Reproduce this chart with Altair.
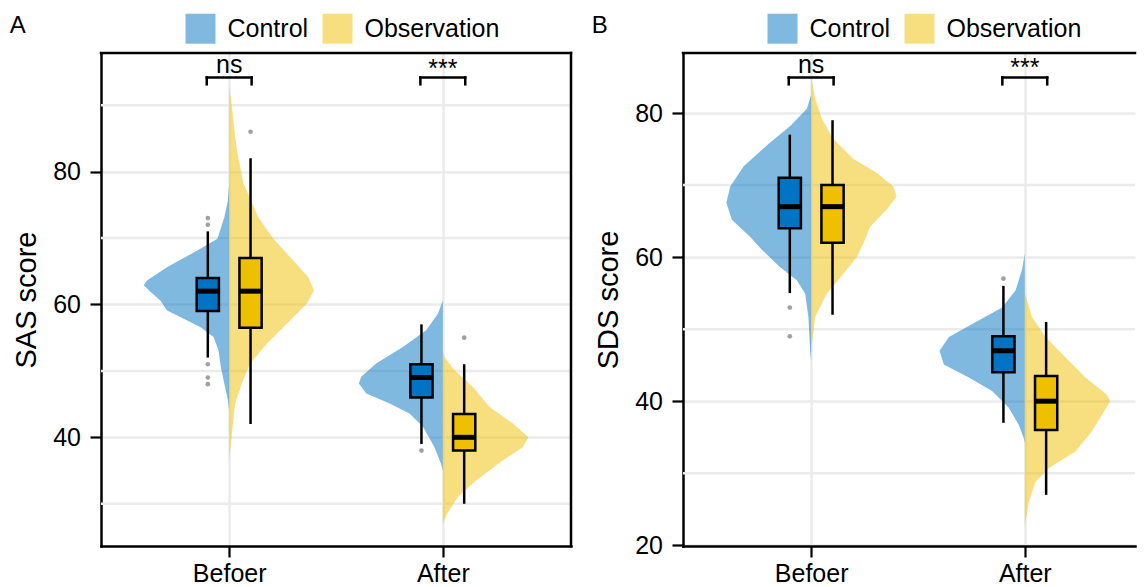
import altair as alt
import pandas as pd

TIMES = ["Befoer", "After"]
GROUPS = ["Control", "Observation"]
BOX_COLORS = ["#0073C2", "#EFC000"]

# ---------------- Panel A: SAS score ----------------
# violin outlines: score values and half-widths (category units)
SAS_BEF_CTRL_SCORE = [78.0, 75.6, 73.1, 69.9, 68.1, 65.6, 63.6, 62.9, 61.9, 60.6, 59.1, 58.1, 56.6, 55.1, 53.1, 50.6, 48.1, 45.6, 44.0]
SAS_BEF_CTRL_WIDTH = [0, 0.006, 0.023, 0.055, 0.151, 0.291, 0.385, 0.400, 0.369, 0.322, 0.291, 0.229, 0.136, 0.073, 0.050, 0.039, 0.023, 0.006, 0]
SAS_BEF_OBS_SCORE = [93.0, 90.0, 87.0, 83.2, 78.2, 73.1, 69.9, 66.6, 64.1, 62.1, 60.1, 57.1, 54.1, 51.1, 48.1, 45.1, 40.6, 36.5]
SAS_BEF_OBS_WIDTH = [0, 0.012, 0.022, 0.036, 0.067, 0.137, 0.207, 0.300, 0.371, 0.397, 0.363, 0.270, 0.176, 0.098, 0.059, 0.028, 0.013, 0]
SAS_AFT_CTRL_SCORE = [60.6, 58.6, 56.1, 53.6, 51.1, 49.1, 48.1, 46.6, 45.1, 43.6, 41.6, 38.5, 36.0, 35.0]
SAS_AFT_CTRL_WIDTH = [0, 0.023, 0.078, 0.187, 0.312, 0.382, 0.393, 0.358, 0.249, 0.156, 0.093, 0.039, 0.008, 0]
SAS_AFT_OBS_SCORE = [53.0, 52.1, 50.1, 47.6, 44.6, 42.1, 40.0, 38.5, 36.5, 33.5, 31.0, 28.5, 27.0]
SAS_AFT_OBS_WIDTH = [0, 0.008, 0.055, 0.140, 0.218, 0.327, 0.400, 0.374, 0.280, 0.156, 0.070, 0.020, 0]

# box statistics, order: Befoer-Control, Befoer-Observation, After-Control, After-Observation
SAS_LO = [52, 42, 39, 30]
SAS_Q1 = [59, 56.5, 46, 38]
SAS_MED = [62, 62, 49, 40]
SAS_Q3 = [64, 67, 51, 43.5]
SAS_HI = [71, 82, 57, 51]
SAS_OUT = [[73, 72, 51, 49, 48], [86], [38], [55]]
SAS_SIG = ["ns", "***"]

# ---------------- Panel B: SDS score ----------------
SDS_BEF_CTRL_SCORE = [82.5, 80.6, 78.2, 75.9, 72.6, 69.8, 67.5, 65.2, 62.8, 61.0, 58.6, 56.8, 54.9, 51.7, 47.0, 45.5]
SDS_BEF_CTRL_WIDTH = [0, 0.020, 0.098, 0.192, 0.316, 0.379, 0.397, 0.371, 0.285, 0.230, 0.145, 0.067, 0.028, 0.013, 0.005, 0]
SDS_BEF_OBS_SCORE = [85.0, 82.0, 79.2, 76.4, 73.6, 71.7, 69.8, 68.4, 66.6, 64.2, 62.4, 60.0, 57.7, 54.9, 51.7, 48.4, 47.5]
SDS_BEF_OBS_WIDTH = [0, 0.019, 0.050, 0.104, 0.198, 0.307, 0.385, 0.400, 0.354, 0.276, 0.252, 0.214, 0.151, 0.073, 0.019, 0.006, 0]
SDS_AFT_CTRL_SCORE = [60.5, 58.2, 55.4, 53.0, 50.7, 48.9, 47.0, 45.1, 43.3, 41.4, 39.1, 36.7, 34.9, 34.2]
SDS_AFT_CTRL_WIDTH = [0, 0.013, 0.043, 0.106, 0.246, 0.355, 0.399, 0.379, 0.262, 0.153, 0.075, 0.028, 0.005, 0]
SDS_AFT_OBS_SCORE = [55.0, 51.7, 48.9, 46.1, 43.3, 40.9, 40.0, 38.1, 35.8, 33.0, 30.7, 28.8, 26.0, 23.7, 22.3]
SDS_AFT_OBS_WIDTH = [0, 0.034, 0.097, 0.190, 0.284, 0.385, 0.400, 0.361, 0.314, 0.237, 0.112, 0.050, 0.019, 0.006, 0]

SDS_LO = [55, 52, 37, 27]
SDS_Q1 = [64, 62, 44, 36]
SDS_MED = [67, 67, 47, 40]
SDS_Q3 = [71, 70, 49, 43.5]
SDS_HI = [77, 79, 56, 51]
SDS_OUT = [[53, 49], [], [57], []]
SDS_SIG = ["ns", "***"]

# bracket levels (score units): text baseline ns, text baseline ***, bracket top, bracket foot
SAS_BRACKET = [94.88, 94.31, 94.16, 93.14]
SDS_BRACKET = [85.60, 85.07, 84.93, 83.98]

SAS_YDOMAIN = [23.64, 97.85]
SDS_YDOMAIN = [19.9, 88.33]
SAS_MAJOR = [40, 60, 80]
SAS_MINOR = [30, 50, 70, 90]
SDS_MAJOR = [20, 40, 60, 80]
SDS_MINOR = [30, 50, 70]

DODGE = 0.1
BOX_HALF = 0.052
BRACKET_HALF = 0.105


def violin_frame(items):
    rows = []
    for t, g, scores, widths in items:
        c = t + 1
        for s, w in zip(scores, widths):
            rows.append({"vid": f"{t}-{g}", "group": GROUPS[g], "time": TIMES[t],
                         "score": s, "center": c, "edge": c - w if g == 0 else c + w})
    return pd.DataFrame(rows)


def box_frames(lo, q1, med, q3, hi, outs):
    rows, orow = [], []
    k = 0
    for t in range(2):
        for g in range(2):
            xp = t + 1 + (-DODGE if g == 0 else DODGE)
            rows.append({"group": GROUPS[g], "xpos": xp, "x1": xp - BOX_HALF, "x2": xp + BOX_HALF,
                         "lo": lo[k], "q1": q1[k], "med": med[k], "q3": q3[k], "hi": hi[k]})
            for o in outs[k]:
                orow.append({"xpos": xp, "score": o})
            k += 1
    return pd.DataFrame(rows), pd.DataFrame(orow, columns=["xpos", "score"])


def bracket_frames(sig, lv):
    seg, txt = [], []
    for t in range(2):
        c = t + 1
        a, b = c - BRACKET_HALF, c + BRACKET_HALF
        seg.append({"xa": a, "xb": b, "ya": lv[2], "yb": lv[2]})
        seg.append({"xa": a, "xb": a, "ya": lv[2], "yb": lv[3]})
        seg.append({"xa": b, "xb": b, "ya": lv[2], "yb": lv[3]})
        txt.append({"x": c, "y": lv[0] if sig[t] == "ns" else lv[1], "label": sig[t]})
    return pd.DataFrame(seg), pd.DataFrame(txt)


def make_panel(letter, ytitle, ydomain, major, minor, vdf, bdf, odf, sdf, tdf, xmax, width, height, right_border):
    xs = alt.Scale(domain=[0.4, xmax], nice=False, zero=False)
    ys = alt.Scale(domain=ydomain, nice=False, zero=False)
    label_expr = f"datum.value == 1 ? '{TIMES[0]}' : '{TIMES[1]}'"
    xaxis = alt.Axis(values=[1, 2], labelExpr=label_expr, title=None, grid=True,
                     gridColor="#EBEBEB", gridWidth=2.5,
                     domain=True, domainColor="black", domainWidth=2.5, domainCap="square",
                     tickSize=11, tickWidth=2.2, tickColor="black",
                     labelFontSize=25, labelColor="black", labelPadding=4.5, labelFlush=False)
    yaxis = alt.Axis(values=major, title=ytitle, grid=True, gridColor="#EBEBEB", gridWidth=2.5,
                     domain=True, domainColor="black", domainWidth=2.5, domainCap="square",
                     tickSize=11, tickWidth=2.2, tickColor="black",
                     labelFontSize=25, labelColor="black", labelPadding=9.5,
                     titleFontSize=29, titleFontWeight="normal", titleColor="black",
                     titleX=-65.5, titleY=height / 2, titleBaseline="alphabetic", titleAngle=270)
    legend = alt.Legend(orient="none", legendX=84.5, legendY=-39.3, direction="horizontal", title=None,
                        symbolType="square", symbolSize=900, symbolOpacity=0.5, symbolStrokeWidth=0,
                        labelFontSize=25, labelColor="black", labelOffset=12, columnPadding=14,
                        padding=0, labelLimit=400)

    def X(f):
        return alt.X(f, scale=xs, axis=xaxis)

    def Y(f):
        return alt.Y(f, scale=ys, axis=yaxis)

    minor_df = pd.DataFrame({"v": minor})
    grid = alt.Chart(minor_df).mark_rule(color="#EBEBEB", strokeWidth=2.5).encode(y=Y("v:Q"))

    violin = alt.Chart(vdf).mark_area(orient="horizontal", opacity=0.5).encode(
        y=Y("score:Q"),
        x=alt.X("edge:Q", scale=xs, axis=xaxis, stack=None),
        x2="center:Q",
        color=alt.Color("group:N", scale=alt.Scale(domain=GROUPS, range=BOX_COLORS), legend=legend),
        detail="vid:N",
    )
    whisk = alt.Chart(bdf).mark_rule(color="black", strokeWidth=2.5).encode(
        x=X("xpos:Q"), y=Y("lo:Q"), y2="hi:Q")
    box = alt.Chart(bdf).mark_rect(stroke="black", strokeWidth=2.5).encode(
        x=X("x1:Q"), x2="x2:Q", y=Y("q1:Q"), y2="q3:Q",
        fill=alt.Fill("group:N", scale=alt.Scale(domain=GROUPS, range=BOX_COLORS), legend=None))
    med = alt.Chart(bdf).mark_rule(color="black", strokeWidth=5).encode(
        x=X("x1:Q"), x2="x2:Q", y=Y("med:Q"))
    outl = alt.Chart(odf).mark_circle(size=22, color="#A0A0A0", opacity=1).encode(
        x=X("xpos:Q"), y=Y("score:Q"))
    brk = alt.Chart(sdf).mark_rule(color="black", strokeWidth=2.5, strokeCap="square").encode(
        x=X("xa:Q"), x2="xb:Q", y=Y("ya:Q"), y2="yb:Q")
    txt = alt.Chart(tdf).mark_text(fontSize=25, baseline="alphabetic", align="center", color="black").encode(
        x=X("x:Q"), y=Y("y:Q"), text="label:N")

    one = pd.DataFrame({"letter": [letter]})
    lab = alt.Chart(one).mark_text(fontSize=24, align="left", baseline="alphabetic", color="black").encode(
        x=alt.value(-91.2), y=alt.value(-19.7), text="letter:N")
    top = alt.Chart(one).mark_rule(color="black", strokeWidth=2.5, strokeCap="square").encode(
        y=alt.value(0))
    layers = [grid, violin, whisk, box, med, outl, brk, txt, lab, top]
    if right_border:
        layers.append(alt.Chart(one).mark_rule(color="black", strokeWidth=2.5, strokeCap="square").encode(
            x=alt.value(width)))
    return alt.layer(*layers).properties(width=width, height=height)


vA = violin_frame([(0, 0, SAS_BEF_CTRL_SCORE, SAS_BEF_CTRL_WIDTH), (0, 1, SAS_BEF_OBS_SCORE, SAS_BEF_OBS_WIDTH),
                   (1, 0, SAS_AFT_CTRL_SCORE, SAS_AFT_CTRL_WIDTH), (1, 1, SAS_AFT_OBS_SCORE, SAS_AFT_OBS_WIDTH)])
vB = violin_frame([(0, 0, SDS_BEF_CTRL_SCORE, SDS_BEF_CTRL_WIDTH), (0, 1, SDS_BEF_OBS_SCORE, SDS_BEF_OBS_WIDTH),
                   (1, 0, SDS_AFT_CTRL_SCORE, SDS_AFT_CTRL_WIDTH), (1, 1, SDS_AFT_OBS_SCORE, SDS_AFT_OBS_WIDTH)])
bA, oA = box_frames(SAS_LO, SAS_Q1, SAS_MED, SAS_Q3, SAS_HI, SAS_OUT)
bB, oB = box_frames(SDS_LO, SDS_Q1, SDS_MED, SDS_Q3, SDS_HI, SDS_OUT)
sA, tA = bracket_frames(SAS_SIG, SAS_BRACKET)
sB, tB = bracket_frames(SDS_SIG, SDS_BRACKET)

panelA = make_panel("A", "SAS score", SAS_YDOMAIN, SAS_MAJOR, SAS_MINOR, vA, bA, oA, sA, tA, 2.6, 470, 493, True)
panelB = make_panel("B", "SDS score", SDS_YDOMAIN, SDS_MAJOR, SDS_MINOR, vB, bB, oB, sB, tB, 2.516, 452, 493, False)

chart = alt.hconcat(panelA, panelB, spacing=18).resolve_scale(
    x="independent", y="independent", color="independent", fill="independent"
).resolve_legend(color="independent").properties(
    padding={"left": 1, "top": 5, "right": 0, "bottom": 0}
).configure(font="Liberation Sans").configure_view(stroke=None)

chart.save("out.html", embed_options={"renderer": "svg", "actions": False})
